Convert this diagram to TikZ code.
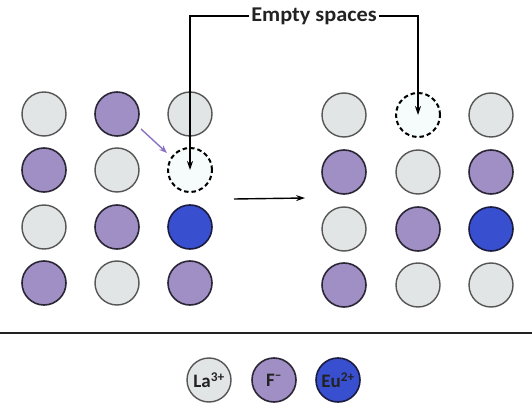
\documentclass[tikz,border=0pt]{standalone}
\usepackage{fontspec}
\setmainfont{Carlito}
\newfontfamily\labelfont[FakeStretch=1.06]{Carlito}
\usetikzlibrary{arrows.meta}
\definecolor{lagray}{HTML}{E2E5E6}
\definecolor{laedge}{HTML}{555555}
\definecolor{fpurple}{HTML}{A08FC4}
\definecolor{fedge}{HTML}{2B2635}
\definecolor{eublue}{HTML}{3850D0}
\definecolor{euedge}{HTML}{1B1B40}
\definecolor{vacfill}{HTML}{F6FCFC}
\definecolor{arrowpurple}{HTML}{8A72C4}
\definecolor{txt}{HTML}{222222}
\begin{document}
\begin{tikzpicture}[x=1pt,y=-1pt,
  ion/.style={circle,minimum size=44pt,inner sep=0pt,text=txt,font=\bfseries\fontsize{19}{19}\selectfont},
  la/.style={ion,fill=lagray,draw=laedge,line width=1.4pt},
  fl/.style={ion,fill=fpurple,draw=fedge,line width=1.6pt},
  eu/.style={ion,fill=eublue,draw=euedge,line width=1.6pt},
  vac/.style={ion,fill=vacfill,draw=black,line width=2pt,dash pattern=on 4.5pt off 3pt},
  pointer/.style={line width=1.4pt,draw=black,-{Stealth[length=9pt,width=6pt]}},
]
\useasboundingbox (0,0) rectangle (532,403);

% lattice before
\node[la]  (l11) at (44,114) {};
\node[fl]  (l12) at (117,114) {};
\node[la]  (l13) at (190,114) {};
\node[fl]  (l21) at (44,170) {};
\node[la]  (l22) at (117,170) {};
\node[vac] (l23) at (190,170) {};
\node[la]  (l31) at (44,227) {};
\node[fl]  (l32) at (117,227) {};
\node[eu]  (l33) at (190,227) {};
\node[fl]  (l41) at (44,283) {};
\node[la]  (l42) at (117,283) {};
\node[fl]  (l43) at (190,283) {};

% lattice after
\node[la]  (r11) at (344,115) {};
\node[vac] (r12) at (418,115) {};
\node[la]  (r13) at (491,115) {};
\node[fl]  (r21) at (344,172) {};
\node[la]  (r22) at (418,172) {};
\node[fl]  (r23) at (491,172) {};
\node[la]  (r31) at (344,229) {};
\node[fl]  (r32) at (418,229) {};
\node[eu]  (r33) at (491,229) {};
\node[fl]  (r41) at (344,285) {};
\node[la]  (r42) at (418,285) {};
\node[la]  (r43) at (491,285) {};

% vacancy label and pointers
\node[text=txt,font=\labelfont\bfseries\fontsize{21}{21}\selectfont,inner sep=2pt] (lbl) at (314,16) {Empty spaces};
\draw[pointer] (lbl.west) -| (l23.center);
\draw[pointer] (lbl.east) -| (r12.center);

% fluoride hop into the vacancy
\coordinate (hopA) at (141,129);
\coordinate (hopB) at (167,153);
\draw[line width=1.4pt,arrowpurple,-{Stealth[length=8pt,width=6pt]}] (hopA) -- (hopB);

% reaction arrow
\coordinate (stepA) at (234,199);
\coordinate (stepB) at (305,198);
\draw[line width=1.4pt,black,-{Stealth[length=9pt,width=6pt]}] (stepA) -- (stepB);

% separator
\coordinate (sepL) at (0,333);
\coordinate (sepR) at (532,333);
\draw[line width=1.6pt,draw=txt] (sepL) -- (sepR);

% legend
\node[la] (kla) at (209,380) {La\textsuperscript{3+}};
\node[fl] (kf)  at (274,380) {F\textsuperscript{–}};
\node[eu] (keu) at (338,380) {Eu\textsuperscript{2+}};
\end{tikzpicture}
\end{document}
